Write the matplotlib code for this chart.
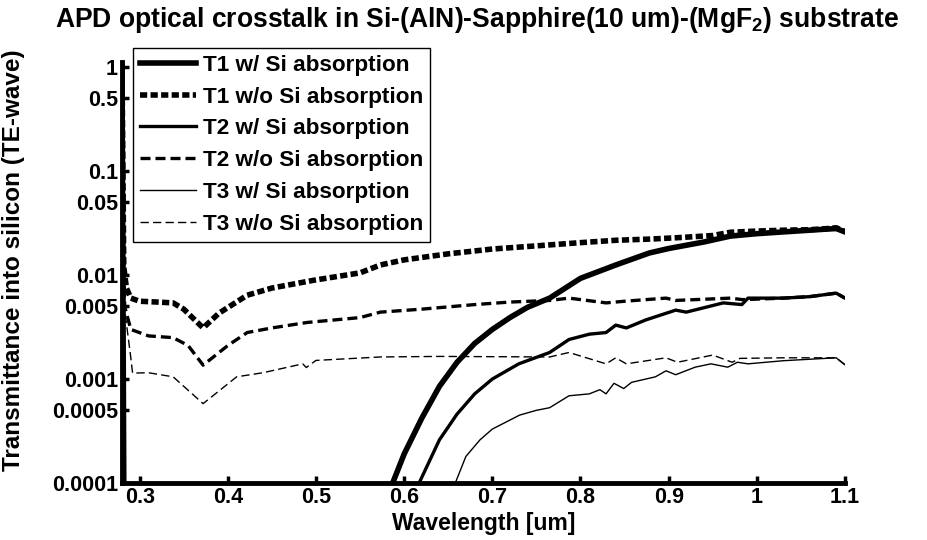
import matplotlib
matplotlib.use("Agg")
import matplotlib.pyplot as plt
import numpy as np

plt.rcParams['font.family'] = ['Liberation Sans', 'DejaVu Sans']
plt.rcParams['font.weight'] = 'bold'
plt.rcParams['mathtext.fontset'] = 'custom'
plt.rcParams['mathtext.rm'] = 'Liberation Sans:bold'
plt.rcParams['mathtext.bf'] = 'Liberation Sans:bold'
plt.rcParams['mathtext.it'] = 'Liberation Sans:bold'
plt.rcParams['mathtext.default'] = 'bf'

title = "APD optical crosstalk in Si-(AlN)-Sapphire(10 um)-(MgF$_2$) substrate"
xlabel = "Wavelength [um]"
ylabel = "Transmittance into silicon (TE-wave)"
labels = ["T1 w/ Si absorption", "T1 w/o Si absorption",
          "T2 w/ Si absorption", "T2 w/o Si absorption",
          "T3 w/ Si absorption", "T3 w/o Si absorption"]
xticks = [0.3, 0.4, 0.5, 0.6, 0.7, 0.8, 0.9, 1.0, 1.1]
xticklabels = ["0.3", "0.4", "0.5", "0.6", "0.7", "0.8", "0.9", "1", "1.1"]
yticks = [0.0001, 0.0005, 0.001, 0.005, 0.01, 0.05, 0.1, 0.5, 1]
yticklabels = ["0.0001", "0.0005", "0.001", "0.005", "0.01", "0.05", "0.1", "0.5", "1"]

# T1 without Si absorption (thick dotted)
wl_t1_wo = [0.280, 0.282, 0.285, 0.290, 0.300, 0.320, 0.338, 0.350, 0.372, 0.390,
            0.422, 0.450, 0.497, 0.550, 0.573, 0.600, 0.650, 0.700, 0.765, 0.800,
            0.840, 0.880, 0.915, 0.950, 0.970, 1.000, 1.030, 1.060, 1.080, 1.090, 1.100]
t1_wo = [1.0, 0.012, 0.0075, 0.0060, 0.0056, 0.0055, 0.0054, 0.0047, 0.0031, 0.0043,
         0.0064, 0.0075, 0.0089, 0.0105, 0.0125, 0.0140, 0.0160, 0.0178, 0.0195, 0.0205,
         0.0216, 0.0222, 0.0230, 0.0240, 0.0258, 0.0265, 0.0270, 0.0273, 0.0280, 0.0285, 0.0262]

# T1 with Si absorption (thick solid)
wl_t1_w = [0.280, 0.2835, 0.575, 0.587, 0.600, 0.620, 0.640, 0.660, 0.680, 0.700,
           0.720, 0.740, 0.765, 0.800, 0.840, 0.878, 0.900, 0.940, 0.970, 1.000,
           1.030, 1.060, 1.080, 1.090, 1.100]
t1_w = [1.0, 1e-7, 3e-5, 1e-4, 1.9e-4, 4.2e-4, 8.5e-4, 1.45e-3, 2.2e-3, 3.0e-3,
        3.9e-3, 4.9e-3, 6.0e-3, 9.3e-3, 1.25e-2, 1.63e-2, 1.80e-2, 2.08e-2, 2.37e-2, 2.5e-2,
        2.6e-2, 2.7e-2, 2.77e-2, 2.8e-2, 2.6e-2]

# T2 without Si absorption (medium dashed)
wl_t2_wo = [0.280, 0.283, 0.290, 0.310, 0.338, 0.355, 0.372, 0.400, 0.422, 0.450,
            0.490, 0.550, 0.573, 0.620, 0.680, 0.720, 0.765, 0.787, 0.829, 0.850,
            0.897, 0.908, 0.970, 0.984, 1.030, 1.060, 1.090, 1.100]
t2_wo = [0.3, 0.005, 0.0030, 0.0026, 0.0025, 0.0021, 0.00136, 0.0021, 0.0028, 0.0031,
         0.0035, 0.0039, 0.0044, 0.0047, 0.0052, 0.0055, 0.0057, 0.0060, 0.0054, 0.0056,
         0.0060, 0.0057, 0.0060, 0.0058, 0.0060, 0.0062, 0.0067, 0.0060]

# T2 with Si absorption (medium solid)
wl_t2_w = [0.280, 0.2835, 0.605, 0.617, 0.640, 0.660, 0.680, 0.700, 0.730, 0.765,
           0.787, 0.810, 0.829, 0.840, 0.852, 0.874, 0.908, 0.920, 0.962, 0.983,
           0.990, 1.030, 1.060, 1.090, 1.100]
t2_w = [1.0, 1e-7, 3e-5, 1e-4, 2.6e-4, 4.6e-4, 7.2e-4, 1.0e-3, 1.4e-3, 1.8e-3,
        2.4e-3, 2.7e-3, 2.8e-3, 3.3e-3, 3.1e-3, 3.7e-3, 4.6e-3, 4.4e-3, 5.4e-3, 5.2e-3,
        6.0e-3, 6.0e-3, 6.2e-3, 6.7e-3, 6.0e-3]

# T3 without Si absorption (thin dashed)
wl_t3_wo = [0.280, 0.284, 0.290, 0.292, 0.310, 0.338, 0.372, 0.410, 0.440, 0.485,
            0.489, 0.500, 0.573, 0.640, 0.765, 0.787, 0.829, 0.840, 0.852, 0.897,
            0.910, 0.950, 0.972, 0.981, 1.030, 1.060, 1.090, 1.100]
t3_wo = [0.05, 0.004, 0.0016, 0.00114, 0.00115, 0.00105, 0.00058, 0.00105, 0.00115, 0.0014,
         0.00129, 0.00151, 0.00163, 0.00165, 0.00163, 0.0018, 0.0014, 0.0016, 0.0014, 0.0016,
         0.00145, 0.0017, 0.00145, 0.00158, 0.0016, 0.0016, 0.0016, 0.00137]

# T3 with Si absorption (thin solid)
wl_t3_w = [0.280, 0.2835, 0.645, 0.658, 0.670, 0.686, 0.700, 0.731, 0.750, 0.765,
           0.787, 0.810, 0.822, 0.829, 0.838, 0.849, 0.858, 0.885, 0.897, 0.908,
           0.930, 0.948, 0.967, 0.978, 0.990, 1.030, 1.060, 1.090, 1.100]
t3_w = [1.0, 1e-7, 3e-5, 1e-4, 1.8e-4, 2.6e-4, 3.3e-4, 4.5e-4, 5.0e-4, 5.3e-4,
        6.9e-4, 7.2e-4, 7.9e-4, 7.2e-4, 9.1e-4, 8.1e-4, 9.3e-4, 1.05e-3, 1.2e-3, 1.1e-3,
        1.3e-3, 1.4e-3, 1.3e-3, 1.45e-3, 1.4e-3, 1.5e-3, 1.55e-3, 1.6e-3, 1.37e-3]

fig = plt.figure(figsize=(9.27, 5.4), dpi=100)
ax = fig.add_axes([122/927, 1-483/540, (845-122)/927, (483-62)/540])

k = 'black'
l1, = ax.plot(wl_t1_w, t1_w, color=k, lw=4.0, solid_joinstyle='round')
l2, = ax.plot(wl_t1_wo, t1_wo, color=k, lw=4.0, linestyle=(0, (1.3, 0.6)))
l3, = ax.plot(wl_t2_w, t2_w, color=k, lw=2.4)
l4, = ax.plot(wl_t2_wo, t2_wo, color=k, lw=2.4, linestyle=(0, (3.0, 1.5)))
l5, = ax.plot(wl_t3_w, t3_w, color=k, lw=1.0)
l6, = ax.plot(wl_t3_wo, t3_wo, color=k, lw=1.0, linestyle=(0, (6, 3)))

ax.set_yscale('log')
ax.set_xlim(0.28, 1.1)
ax.set_ylim(0.0001, 1.12)
ax.set_xticks(xticks)
ax.set_xticklabels(xticklabels)
ax.set_yticks(yticks)
ax.set_yticklabels(yticklabels)
ax.yaxis.set_minor_locator(matplotlib.ticker.NullLocator())
ax.tick_params(direction='in', length=5, width=2.5, labelsize=15.5, pad=3)
for s in ['top', 'right']:
    ax.spines[s].set_visible(False)
for s in ['left', 'bottom']:
    ax.spines[s].set_linewidth(3.5)
for t in ax.get_xticklabels() + ax.get_yticklabels():
    t.set_fontweight('bold')

ax.set_xlabel(xlabel, fontsize=16.5, fontweight='bold', labelpad=3)

fig.text(14/927, 1-260/540, ylabel, fontsize=17.5, fontweight='bold',
         rotation=90, ha='center', va='center')

fig.text(477/927, 1-20/540, title, fontsize=19.1, fontweight='bold', ha='center', va='center')

leg = fig.legend([l1, l2, l3, l4, l5, l6], labels, loc='upper left',
                 bbox_to_anchor=(133/927, 1-48/540), bbox_transform=fig.transFigure,
                 borderaxespad=0, fancybox=False, framealpha=1, edgecolor='black',
                 prop={'size': 16.2, 'weight': 'bold'}, handlelength=2.5,
                 handletextpad=0.3, labelspacing=0.48, borderpad=0.3)
leg.get_frame().set_linewidth(1.0)

fig.savefig('out.png', dpi=100)
